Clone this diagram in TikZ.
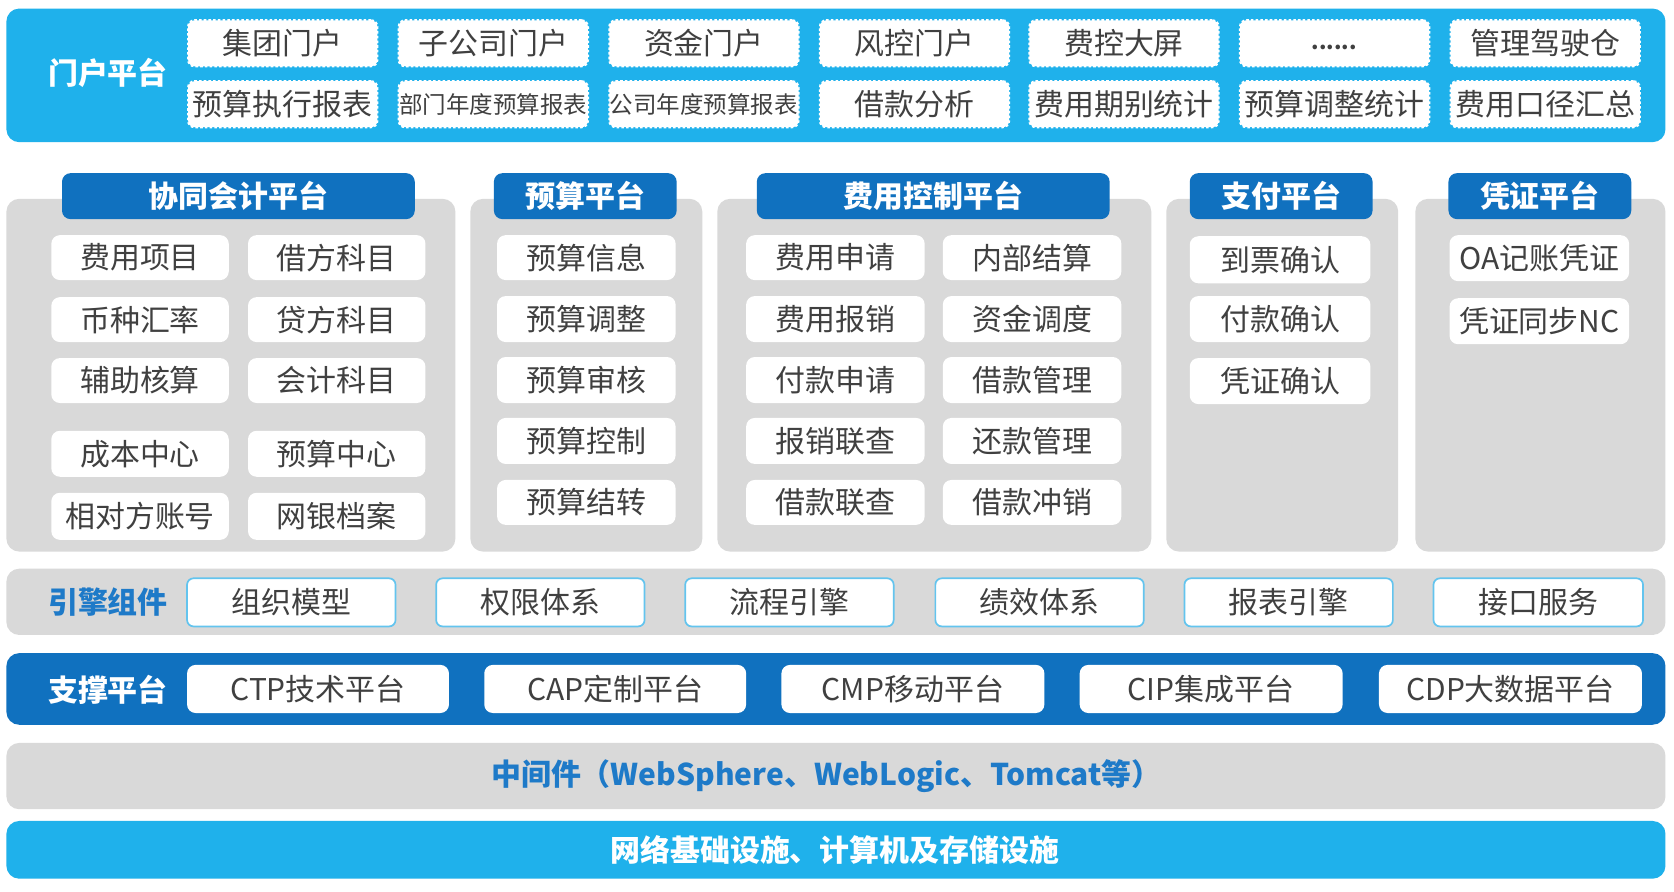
\documentclass[tikz,border=0pt]{standalone}
\usepackage{fontspec}
\setmainfont{Noto Sans CJK SC}
\definecolor{topblue}{HTML}{1FB1EB}
\definecolor{darkblue}{HTML}{1071BF}
\definecolor{panelgray}{HTML}{D9D9D9}
\definecolor{txtgray}{HTML}{404040}
\definecolor{engblue}{HTML}{1E7AC8}
\definecolor{engborder}{HTML}{63C4EE}
\newcommand\bx[7]{%
  \pgfmathsetmacro\bxcx{(#3+#5)/2}\pgfmathsetmacro\bxcy{(#4+#6)/2}%
  \pgfmathsetmacro\bxww{(#5-#3)*0.5}\pgfmathsetmacro\bxhh{(#6-#4)*0.5}%
  \node[#1, minimum width=\bxww pt, minimum height=\bxhh pt] (#2) at (\bxcx,\bxcy) {#7};}
\tikzset{
  basefont/.style={font=\fontsize{14}{16}\selectfont},
  boldfont/.style={font=\fontsize{14}{16}\selectfont\bfseries},
  bandtop/.style={fill=topblue, rounded corners=6pt, inner sep=0pt},
  banddark/.style={fill=darkblue, rounded corners=6pt, inner sep=0pt},
  bandgray/.style={fill=panelgray, rounded corners=6pt, inner sep=0pt},
  portalbox/.style={fill=white, draw=white, line width=1pt, dash pattern=on 1.2pt off 1pt,
    rounded corners=3pt, inner sep=0pt, text=txtgray, basefont},
  panelbox/.style={fill=panelgray, rounded corners=6pt, inner sep=0pt},
  headerbox/.style={fill=darkblue, rounded corners=4pt, inner sep=0pt, text=white, boldfont},
  itembox/.style={fill=white, rounded corners=4pt, inner sep=0pt, text=txtgray, basefont},
  engbox/.style={fill=white, draw=engborder, line width=0.8pt, rounded corners=3pt, inner sep=0pt, text=txtgray, basefont},
  supbox/.style={fill=white, rounded corners=4pt, inner sep=0pt, text=txtgray, basefont},
  whitelbl/.style={text=white, boldfont, inner sep=0pt},
  bluelbl/.style={text=engblue, boldfont, inner sep=0pt},
}
\begin{document}
\begin{tikzpicture}[x=0.5pt,y=-0.5pt]
\fill[white] (0,0) rectangle (1566,834);
\useasboundingbox (0,0) rectangle (1566,834);

% ---------- portal platform ----------
\bx{bandtop}{portal}{6}{8}{1558}{133}{}
\node[whitelbl] (portallbl) at (101,68) {门户平台};
\bx{portalbox}{p11}{176}{19}{353}{62}{集团门户}
\bx{portalbox}{p12}{373}{19}{550}{62}{子公司门户}
\bx{portalbox}{p13}{570}{19}{747}{62}{资金门户}
\bx{portalbox}{p14}{767}{19}{944}{62}{风控门户}
\bx{portalbox}{p15}{963}{19}{1140}{62}{费控大屏}
\bx{portalbox}{p16}{1160}{19}{1337}{62}{}
\node[text=txtgray, font=\fontsize{10}{12}\selectfont\bfseries, inner sep=0pt] (dots) at (1248,44) {......};
\bx{portalbox}{p17}{1357}{19}{1534}{62}{管理驾驶仓}
\bx{portalbox}{p21}{176}{76}{353}{119}{预算执行报表}
\bx{portalbox}{p22}{373}{76}{550}{119}{\fontsize{11}{13}\selectfont 部门年度预算报表}
\bx{portalbox}{p23}{570}{76}{747}{119}{\fontsize{11}{13}\selectfont 公司年度预算报表}
\bx{portalbox}{p24}{767}{76}{944}{119}{借款分析}
\bx{portalbox}{p25}{963}{76}{1140}{119}{费用期别统计}
\bx{portalbox}{p26}{1160}{76}{1337}{119}{预算调整统计}
\bx{portalbox}{p27}{1357}{76}{1534}{119}{费用口径汇总}

% ---------- panels ----------
\bx{panelbox}{pan1}{6}{186}{426}{516}{}
\bx{panelbox}{pan2}{440}{186}{657}{516}{}
\bx{panelbox}{pan3}{671}{186}{1077}{516}{}
\bx{panelbox}{pan4}{1091}{186}{1308}{516}{}
\bx{panelbox}{pan5}{1324}{186}{1558}{516}{}
\bx{headerbox}{h1}{58}{162}{388}{205}{协同会计平台}
\bx{headerbox}{h2}{462}{162}{633}{205}{预算平台}
\bx{headerbox}{h3}{708}{162}{1038}{205}{费用控制平台}
\bx{headerbox}{h4}{1113}{162}{1284}{205}{支付平台}
\bx{headerbox}{h5}{1355}{162}{1526}{205}{凭证平台}

% panel 1
\bx{itembox}{a11}{48}{220}{214}{262}{费用项目}
\bx{itembox}{a12}{232}{220}{398}{262}{借方科目}
\bx{itembox}{a21}{48}{278}{214}{320}{币种汇率}
\bx{itembox}{a22}{232}{278}{398}{320}{贷方科目}
\bx{itembox}{a31}{48}{335}{214}{377}{辅助核算}
\bx{itembox}{a32}{232}{335}{398}{377}{会计科目}
\bx{itembox}{a41}{48}{403}{214}{446}{成本中心}
\bx{itembox}{a42}{232}{403}{398}{446}{预算中心}
\bx{itembox}{a51}{48}{461}{214}{505}{相对方账号}
\bx{itembox}{a52}{232}{461}{398}{505}{网银档案}

% panel 2
\bx{itembox}{b1}{465}{220}{632}{262}{预算信息}
\bx{itembox}{b2}{465}{277}{632}{320}{预算调整}
\bx{itembox}{b3}{465}{334}{632}{377}{预算审核}
\bx{itembox}{b4}{465}{391}{632}{434}{预算控制}
\bx{itembox}{b5}{465}{449}{632}{491}{预算结转}

% panel 3
\bx{itembox}{c11}{698}{220}{865}{262}{费用申请}
\bx{itembox}{c12}{882}{220}{1049}{262}{内部结算}
\bx{itembox}{c21}{698}{277}{865}{320}{费用报销}
\bx{itembox}{c22}{882}{277}{1049}{320}{资金调度}
\bx{itembox}{c31}{698}{334}{865}{377}{付款申请}
\bx{itembox}{c32}{882}{334}{1049}{377}{借款管理}
\bx{itembox}{c41}{698}{391}{865}{434}{报销联查}
\bx{itembox}{c42}{882}{391}{1049}{434}{还款管理}
\bx{itembox}{c51}{698}{449}{865}{491}{借款联查}
\bx{itembox}{c52}{882}{449}{1049}{491}{借款冲销}

% panel 4
\bx{itembox}{d1}{1113}{221}{1282}{265}{到票确认}
\bx{itembox}{d2}{1113}{277}{1282}{320}{付款确认}
\bx{itembox}{d3}{1113}{335}{1282}{378}{凭证确认}

% panel 5
\bx{itembox}{e1}{1356}{220}{1524}{263}{OA记账凭证}
\bx{itembox}{e2}{1356}{279}{1524}{322}{凭证同步NC}

% ---------- engine components ----------
\bx{bandgray}{engine}{6}{532}{1558}{594}{}
\node[bluelbl] (enginelbl) at (101,563) {引擎组件};
\bx{engbox}{g1}{175}{541}{370}{586}{组织模型}
\bx{engbox}{g2}{408}{541}{603}{586}{权限体系}
\bx{engbox}{g3}{641}{541}{836}{586}{流程引擎}
\bx{engbox}{g4}{875}{541}{1070}{586}{绩效体系}
\bx{engbox}{g5}{1108}{541}{1303}{586}{报表引擎}
\bx{engbox}{g6}{1341}{541}{1537}{586}{接口服务}

% ---------- support platform ----------
\bx{banddark}{support}{6}{611}{1558}{678}{}
\node[whitelbl] (supportlbl) at (101,645) {支撑平台};
\bx{supbox}{s1}{175}{622}{420}{667}{CTP技术平台}
\bx{supbox}{s2}{453}{622}{698}{667}{CAP定制平台}
\bx{supbox}{s3}{731}{622}{977}{667}{CMP移动平台}
\bx{supbox}{s4}{1010}{622}{1256}{667}{CIP集成平台}
\bx{supbox}{s5}{1290}{622}{1536}{667}{CDP大数据平台}

% ---------- middleware ----------
\bx{bandgray}{middle}{6}{695}{1558}{757}{}
\node[bluelbl] (middlelbl) at (773,726) {中间件（WebSphere、WebLogic、Tomcat等）};

% ---------- infrastructure ----------
\bx{bandtop}{infra}{6}{768}{1558}{822}{}
\node[whitelbl] (infralbl) at (781,795) {网络基础设施、计算机及存储设施};
\end{tikzpicture}
\end{document}
